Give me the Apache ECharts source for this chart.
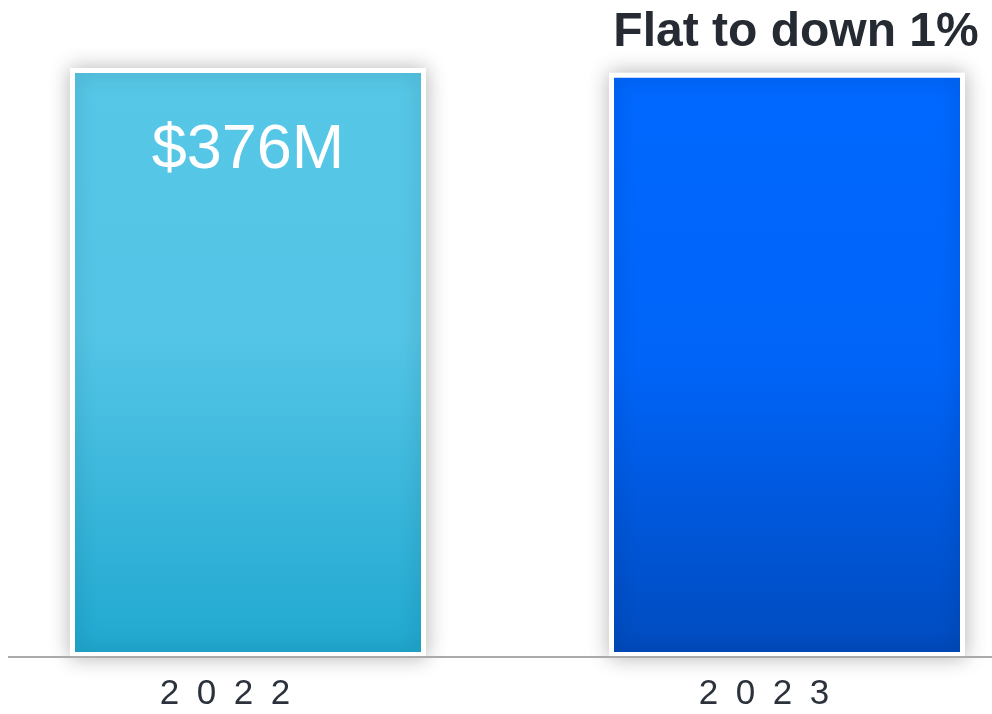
<!DOCTYPE html>
<html>
<head>
<meta charset="utf-8">
<script src="https://cdn.jsdelivr.net/npm/echarts@6/dist/echarts.min.js"></script>
<style>
html,body{margin:0;padding:0;background:#fff;}
#chart{width:992px;height:714px;}
</style>
</head>
<body>
<div id="chart"></div>
<script>
const categories = ['2022', '2023'];
const values = [376, 373];
const valueLabels = ['$376M', 'Flat to down 1%'];

const FONT = '"Liberation Sans", Arial, sans-serif';
const chart = echarts.init(document.getElementById('chart'), null, {renderer: 'canvas'});

const barColors = [
  new echarts.graphic.LinearGradient(0, 0, 0, 1, [
    {offset: 0, color: '#57C7E7'},
    {offset: 0.45, color: '#54C5E6'},
    {offset: 1, color: '#20A8D0'}
  ]),
  new echarts.graphic.LinearGradient(0, 0, 0, 1, [
    {offset: 0, color: '#0068FF'},
    {offset: 0.5, color: '#0064F8'},
    {offset: 1, color: '#004BBE'}
  ])
];

const labelStyles = [
  {show: true, position: 'insideTop', distance: 51, color: '#ffffff', fontSize: 63, fontFamily: FONT},
  {show: true, position: 'top', distance: 16, offset: [9, 0], color: '#262B33', fontSize: 48, fontWeight: 'bold', fontFamily: FONT}
];

const seriesData = values.map((v, i) => ({
  value: v,
  itemStyle: {color: barColors[i]},
  label: Object.assign({formatter: valueLabels[i]}, labelStyles[i])
}));

chart.setOption({
  animation: false,
  backgroundColor: '#ffffff',
  grid: {left: -21.5, width: 1078, top: 68, bottom: 57, containLabel: false, outerBoundsMode: 'none'},
  xAxis: {
    type: 'category',
    data: categories,
    axisLine: {show: false},
    axisTick: {show: false},
    axisLabel: {
      margin: 20,
      fontSize: 35,
      color: '#2B323B',
      fontFamily: FONT,
      padding: [0, 46, 0, 0],
      formatter: v => v.split('').join('\u2002')
    }
  },
  yAxis: {type: 'value', min: 0, max: 376, show: false, splitLine: {show: false}},
  series: [{
    type: 'bar',
    barWidth: 356,
    data: seriesData,
    itemStyle: {
      borderColor: '#ffffff',
      borderWidth: 5,
      shadowBlur: 20,
      shadowColor: 'rgba(0,0,0,0.25)',
      shadowOffsetX: 0,
      shadowOffsetY: 0
    }
  }],
  graphic: [{
    type: 'line',
    z: 100,
    shape: {x1: 8, y1: 657, x2: 992, y2: 657},
    style: {stroke: '#AAAAAA', lineWidth: 2}
  }]
});
</script>
</body>
</html>
